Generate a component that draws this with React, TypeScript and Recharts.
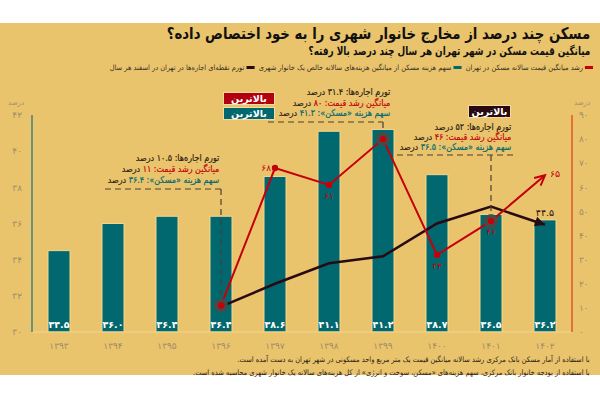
import React from 'react';
import { ComposedChart, Bar, Line, XAxis, YAxis, LabelList } from 'recharts';

// ---- data ----
const years = ['۱۳۹۳', '۱۳۹۴', '۱۳۹۵', '۱۳۹۶', '۱۳۹۷', '۱۳۹۸', '۱۳۹۹', '۱۴۰۰', '۱۴۰۱', '۱۴۰۲'];
const housingShare = [34.5, 36.0, 36.4, 36.4, 38.6, 41.1, 41.2, 38.7, 36.5, 36.2];
const priceGrowth: (number | null)[] = [null, null, null, 11, 68, 61, 80, 32, 46, 65];
const rentInflation: (number | null)[] = [null, null, null, 10.5, 20, 28.5, 31.4, 45, 52, 44.5];
const leftTicks = [30, 32, 34, 36, 38, 40, 42];
const rightTicks = [0, 10, 20, 30, 40, 50, 60, 70, 80, 90];
const highlightIdx = [3, 6, 8];

// ---- styles ----
const FONT = '"DejaVu Sans", sans-serif';
const BG = '#E9C46C';
const TEAL = '#02686F';
const RED = '#C5000B';
const DARK = '#2A0A12';
const TICK = '#9E8C68';
const INK = '#2B2015';

const fa = (v: number | string) => String(v).replace(/\d/g, (d) => '۰۱۲۳۴۵۶۷۸۹'[+d]);

// annotation leader-line layout (pixel layout, not data)
const leader: Record<number, { y: number; left: number; right: number }> = {
  3: { y: 189, left: 116, right: 0 },
  6: { y: 122, left: 115, right: 0 },
  8: { y: 155, left: 94, right: 22 },
};

const pts: Record<string, Record<number, { x: number; y: number }>> = { price: {}, rent: {} };

function arrow(cx: number, cy: number, px: number, py: number, color: string, filled: boolean) {
  const ang = Math.atan2(cy - py, cx - px);
  const L = 10;
  const W = 5;
  const bx = cx - L * Math.cos(ang);
  const by = cy - L * Math.sin(ang);
  const nx = -Math.sin(ang) * W;
  const ny = Math.cos(ang) * W;
  if (filled) {
    return <path d={`M${cx},${cy} L${bx + nx},${by + ny} L${bx - nx},${by - ny} Z`} fill={color} />;
  }
  return (
    <path
      d={`M${bx + nx},${by + ny} L${cx},${cy} L${bx - nx},${by - ny}`}
      fill="none"
      stroke={color}
      strokeWidth={2}
      strokeLinejoin="miter"
    />
  );
}

function prevPoint(key: string, props: any) {
  const { index, points } = props;
  if (points && points[index - 1] && points[index - 1].x != null) {
    return { x: points[index - 1].x, y: points[index - 1].y };
  }
  return pts[key][index - 1];
}

const renderPriceDot = (props: any) => {
  const { cx, cy, index, value } = props;
  if (cx == null || cy == null || value == null) return <g key={`pd-${index}`} />;
  pts.price[index] = { x: cx, y: cy };
  const last = index === years.length - 1;
  const lead = leader[index];
  const hl = highlightIdx.includes(index);
  let label: React.ReactNode = null;
  const txt = fa(value);
  if (index === 4) {
    label = <text x={cx - 4} y={cy + 3} textAnchor="end" fill={RED} fontSize={9} fontFamily={FONT}>{txt}</text>;
  } else if (index === 5 || index === 7 || index === 8) {
    label = <text x={cx} y={cy + 14} textAnchor="middle" fill={RED} fontSize={9} fontFamily={FONT}>{txt}</text>;
  } else if (last) {
    label = <text x={cx + 5} y={cy + 2} textAnchor="start" fill={RED} fontSize={9.5} fontFamily={FONT}>{txt}</text>;
  }
  let arrowEl: React.ReactNode = null;
  if (last) {
    const p = prevPoint('price', props);
    if (p) arrowEl = arrow(cx, cy, p.x, p.y, RED, false);
  }
  return (
    <g key={`pd-${index}`}>
      {lead && (
        <path
          d={`M${cx - lead.left},${lead.y} L${cx + lead.right},${lead.y} M${cx},${lead.y} L${cx},${cy}`}
          stroke="#4a4038"
          strokeWidth={1.2}
          strokeDasharray="6 4"
          fill="none"
        />
      )}
      {hl && <circle cx={cx} cy={cy} r={7} fill="#4d4a47" fillOpacity={0.9} />}
      {!last && <circle cx={cx} cy={cy} r={3.2} fill={RED} />}
      {arrowEl}
      {label}
    </g>
  );
};

const renderRentDot = (props: any) => {
  const { cx, cy, index, value } = props;
  if (cx == null || cy == null || value == null) return <g key={`rd-${index}`} />;
  pts.rent[index] = { x: cx, y: cy };
  const last = index === years.length - 1;
  if (!last) return <g key={`rd-${index}`} />;
  const p = prevPoint('rent', props);
  return (
    <g key={`rd-${index}`}>
      {p && arrow(cx, cy, p.x, p.y, DARK, true)}
      <text x={cx} y={cy - 9} textAnchor="middle" fill={DARK} fontSize={9.5} fontFamily={FONT}>{fa(value)}</text>
    </g>
  );
};

const renderBarLabel = (p: any) => {
  const { x, y, width, height, value } = p;
  return (
    <text
      x={x + width / 2}
      y={y + height - 4}
      textAnchor="middle"
      fill="#ffffff"
      fontSize={9.5}
      fontWeight="bold"
      fontFamily={FONT}
    >
      {fa(Number(value).toFixed(1))}
    </text>
  );
};

const Badge = ({ text, bg, left, top, width }: any) => (
  <div
    style={{
      position: 'absolute',
      left,
      top,
      width,
      height: 13,
      background: bg,
      color: '#fff',
      fontWeight: 'bold',
      fontSize: 9.5,
      lineHeight: '12px',
      textAlign: 'center',
      border: '1px solid #f3dca0',
      boxSizing: 'border-box',
      direction: 'rtl',
    }}
  >
    {text}
  </div>
);

const Annot = ({ idx, right, top, lh }: any) => (
  <div
    style={{
      position: 'absolute',
      right: 600 - right,
      top,
      direction: 'rtl',
      textAlign: 'right',
      fontSize: 9.2,
      lineHeight: `${lh}px`,
      whiteSpace: 'nowrap',
      color: INK,
      transform: 'scaleX(0.87)',
      transformOrigin: 'right center',
      WebkitTextStroke: '0.2px currentColor',
    }}
  >
    <div>تورم اجاره‌ها: {fa(rentInflation[idx] as number)} درصد</div>
    <div>
      <span style={{ color: RED }}>میانگین رشد قیمت: {fa(priceGrowth[idx] as number)}</span> درصد
    </div>
    <div>
      <span style={{ color: TEAL }}>سهم هزینه «مسکن»: {fa(housingShare[idx].toFixed(1))}</span> درصد
    </div>
  </div>
);

const LegendItem = ({ color, text }: any) => (
  <span style={{ display: 'inline-flex', alignItems: 'center', marginLeft: 5 }}>
    <span style={{ display: 'inline-block', width: 9, height: 3, background: color, marginLeft: 2 }} />
    <span>{text}</span>
  </span>
);

export default function App() {
  const data = years.map((y, i) => ({
    year: y,
    share: housingShare[i],
    price: priceGrowth[i],
    rent: rentInflation[i],
  }));
  return (
    <div
      style={{
        position: 'absolute',
        left: 0,
        top: 0,
        width: 600,
        height: 400,
        background: '#ffffff',
        fontFamily: FONT,
        overflow: 'hidden',
      }}
    >
      <div style={{ position: 'absolute', left: 0, top: 23, width: 600, height: 352, background: BG }} />
      <div style={{ position: 'absolute', left: 0, top: 0 }}>
        <ComposedChart width={600} height={400} data={data} margin={{ top: 115, right: 0, bottom: 38, left: 0 }}>
          <XAxis
            dataKey="year"
            height={30}
            interval={0}
            tickLine={false}
            tickSize={0}
            tickMargin={11}
            axisLine={{ stroke: '#F1D590' }}
            tick={{ fill: TICK, fontSize: 9, fontFamily: FONT }}
          />
          <YAxis
            yAxisId="left"
            orientation="left"
            width={32}
            domain={[30, 42]}
            ticks={leftTicks}
            allowDataOverflow
            tickFormatter={(v: number) => fa(v)}
            tickLine={false}
            tickSize={0}
            tickMargin={10}
            axisLine={{ stroke: '#3E8580', strokeWidth: 1.5 }}
            tick={{ fill: TICK, fontSize: 9, fontFamily: FONT }}
          />
          <YAxis
            yAxisId="right"
            orientation="right"
            width={28}
            domain={[0, 90]}
            ticks={rightTicks}
            tickFormatter={(v: number) => fa(v)}
            tickLine={false}
            tickSize={0}
            tickMargin={7}
            axisLine={{ stroke: '#E0552B', strokeWidth: 1.5 }}
            tick={{ fill: TICK, fontSize: 9, fontFamily: FONT, textAnchor: 'start' }}
          />
          <Bar
            yAxisId="left"
            dataKey="share"
            fill={TEAL}
            barSize={22}
            stroke="#F2D690"
            strokeWidth={1}
            isAnimationActive={false}
          >
            <LabelList dataKey="share" content={renderBarLabel} />
          </Bar>
          <Line
            yAxisId="right"
            type="linear"
            dataKey="rent"
            stroke={DARK}
            strokeWidth={2.5}
            dot={renderRentDot}
            activeDot={false}
            isAnimationActive={false}
          />
          <Line
            yAxisId="right"
            type="linear"
            dataKey="price"
            stroke={RED}
            strokeWidth={2}
            dot={renderPriceDot}
            activeDot={false}
            isAnimationActive={false}
          />
        </ComposedChart>
      </div>

      {/* title block */}
      <div
        style={{
          position: 'absolute',
          right: 10,
          top: 24,
          direction: 'rtl',
          textAlign: 'right',
          whiteSpace: 'nowrap',
          color: '#111',
        }}
      >
        <div
          style={{
            fontSize: 16,
            fontWeight: 'bold',
            lineHeight: '20px',
            transform: 'scaleX(0.83)',
            transformOrigin: 'right center',
          }}
        >
          مسکن چند درصد از مخارج خانوار شهری را به خود اختصاص داده؟
        </div>
        <div
          style={{
            fontSize: 11.5,
            fontWeight: 'bold',
            lineHeight: '15px',
            transform: 'scaleX(0.77)',
            transformOrigin: 'right center',
          }}
        >
          میانگین قیمت مسکن در شهر تهران هر سال چند درصد بالا رفته؟
        </div>
      </div>

      {/* legend */}
      <div
        style={{
          position: 'absolute',
          right: 7,
          top: 61,
          direction: 'rtl',
          whiteSpace: 'nowrap',
          fontSize: 7.4,
          lineHeight: '11px',
          color: '#3a3025',
          transform: 'scaleX(0.9)',
          transformOrigin: 'right center',
        }}
      >
        <LegendItem color={RED} text="رشد میانگین قیمت سالانه مسکن در تهران" />
        <LegendItem color={TEAL} text="سهم هزینه مسکن از میانگین هزینه‌های سالانه خالص یک خانوار شهری" />
        <LegendItem color={DARK} text="تورم نقطه‌ای اجاره‌ها در تهران در اسفند هر سال" />
      </div>

      {/* axis unit labels */}
      <div style={{ position: 'absolute', left: 8, top: 99, fontSize: 7, color: TICK }}>درصد</div>
      <div style={{ position: 'absolute', left: 574, top: 99, fontSize: 7, color: TICK }}>درصد</div>

      {/* annotations */}
      <Annot idx={3} right={219} top={152} lh={11} />
      <Annot idx={6} right={390} top={87} lh={10.5} />
      <Annot idx={8} right={511} top={122} lh={10} />
      <Badge text="بالاترین" bg="#B3000E" left={223} top={92} width={52} />
      <Badge text="بالاترین" bg={TEAL} left={223} top={107} width={52} />
      <Badge text="بالاترین" bg={DARK} left={468} top={105} width={43} />

      {/* footnotes */}
      <div
        style={{
          position: 'absolute',
          right: 10,
          top: 353,
          direction: 'rtl',
          textAlign: 'right',
          whiteSpace: 'nowrap',
          fontSize: 7.6,
          lineHeight: '13px',
          color: '#2a2015',
          transform: 'scaleX(0.88)',
          transformOrigin: 'right center',
        }}
      >
        <div>با استفاده از آمار مسکن بانک مرکزی رشد سالانه میانگین قیمت یک متر مربع واحد مسکونی در شهر تهران به دست آمده است.</div>
        <div>با استفاده از بودجه خانوار بانک مرکزی، سهم هزینه‌های «مسکن، سوخت و انرژی» از کل هزینه‌های سالانه یک خانوار شهری محاسبه شده است.</div>
      </div>
    </div>
  );
}
